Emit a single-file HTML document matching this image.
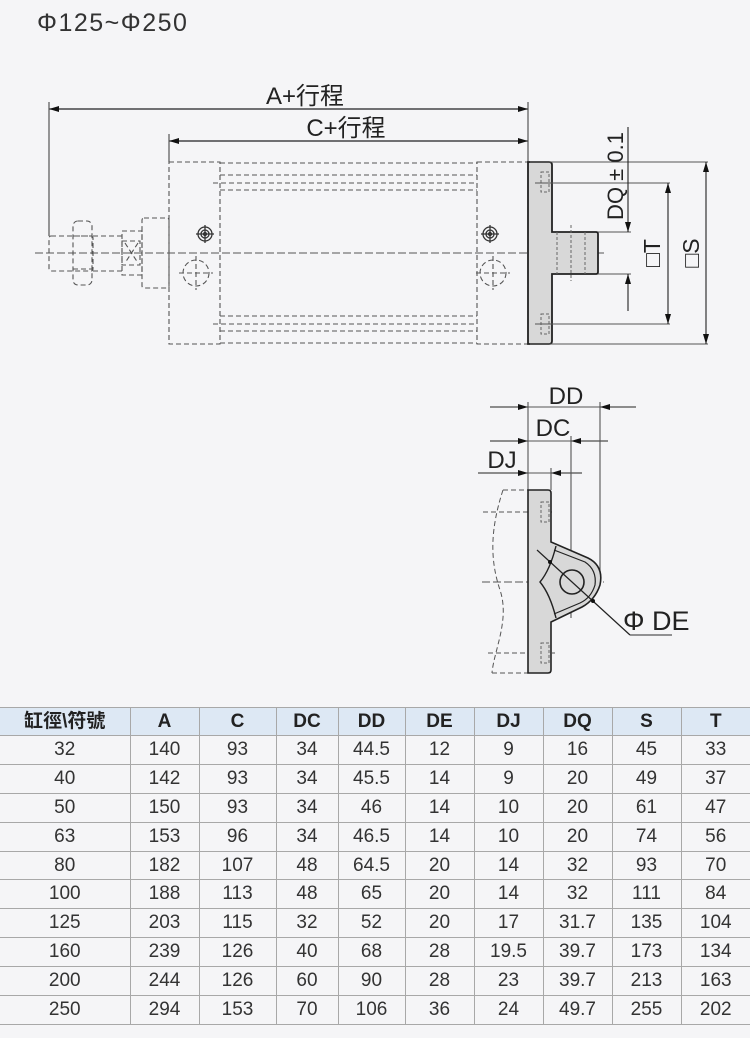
<!DOCTYPE html>
<html><head><meta charset="utf-8"><style>
html,body{margin:0;padding:0;background:#f5f5f7;}
body{width:750px;height:1038px;position:relative;overflow:hidden;font-family:"Liberation Sans","Noto Sans CJK TC",sans-serif;}
svg{position:absolute;left:0;top:0;}
table{position:absolute;left:0;top:707px;width:750px;border-collapse:collapse;table-layout:fixed;}
td,th{border:1.5px solid #a8a8a8;padding:0;text-align:center;font-size:19px;color:#333;line-height:20px;white-space:nowrap;overflow:hidden;}
tr{height:28.9px;}
th{background:#dde8f4;font-weight:bold;font-size:19px;color:#222;}
tr td:first-child, tr th:first-child{border-left:none;}
tr td:last-child, tr th:last-child{border-right:none;}
</style></head><body>
<svg width="750" height="700" viewBox="0 0 750 700" font-family="Liberation Sans, Noto Sans CJK TC, sans-serif">
<defs>
<marker id="ar" viewBox="0 0 10 6" refX="10" refY="3" markerWidth="17" markerHeight="6" orient="auto-start-reverse" markerUnits="userSpaceOnUse"><path d="M0,0 L10,3 L0,6z" fill="#111"/></marker>
</defs>
<text x="37" y="31" font-size="25" letter-spacing="1.5" fill="#333">Φ125~Φ250</text>
<g stroke="#555" stroke-width="1.2" fill="none">
<line x1="49" y1="109" x2="528" y2="109" marker-start="url(#ar)" marker-end="url(#ar)" stroke="#222"/>
<line x1="169" y1="141" x2="528" y2="141" marker-start="url(#ar)" marker-end="url(#ar)" stroke="#222"/>
<line x1="49" y1="102" x2="49" y2="236"/>
<line x1="169" y1="134" x2="169" y2="162"/>
<line x1="528" y1="102" x2="528" y2="162"/>
</g>
<text x="305" y="104" font-size="24" text-anchor="middle" fill="#222">A+行程</text>
<text x="346" y="136" font-size="24" text-anchor="middle" fill="#222">C+行程</text>
<g stroke="#555" stroke-width="1.1" fill="none" stroke-dasharray="5,3">
<rect x="169" y="162" width="51" height="182"/>
<rect x="477" y="162" width="51" height="182"/>
<line x1="220" y1="163" x2="477" y2="163"/>
<line x1="220" y1="175" x2="477" y2="175"/>
<line x1="213" y1="183" x2="477" y2="183"/>
<line x1="220" y1="190" x2="477" y2="190"/>
<line x1="220" y1="316" x2="477" y2="316"/>
<line x1="213" y1="324" x2="477" y2="324"/>
<line x1="220" y1="331" x2="477" y2="331"/>
<line x1="220" y1="343" x2="477" y2="343"/>
<rect x="142" y="218" width="27" height="70" rx="2"/>
<rect x="122" y="231" width="20" height="44"/>
<rect x="49" y="236" width="44" height="35" rx="2"/>
<line x1="93" y1="236" x2="122" y2="236"/><line x1="93" y1="271" x2="122" y2="271"/>
<rect x="73" y="221" width="19" height="64" rx="5"/>
<line x1="73" y1="236" x2="92" y2="236"/><line x1="73" y1="269" x2="92" y2="269"/>
<rect x="122" y="241" width="18" height="24"/>
<line x1="125" y1="243" x2="138" y2="263"/><line x1="138" y1="243" x2="125" y2="263"/>
<circle cx="196" cy="273" r="13"/><circle cx="493" cy="273" r="13"/>
<line x1="35" y1="253" x2="604" y2="253" stroke-dasharray="8,3"/>
<line x1="196" y1="256" x2="196" y2="290"/><line x1="179" y1="273" x2="213" y2="273"/>
<line x1="493" y1="256" x2="493" y2="290"/><line x1="476" y1="273" x2="510" y2="273"/>
</g>
<g fill="none" stroke="#333" stroke-width="1.3">
<circle cx="205" cy="234" r="7"/><circle cx="205" cy="234" r="4"/><circle cx="205" cy="234" r="1.5"/>
<circle cx="490" cy="234" r="7"/><circle cx="490" cy="234" r="4"/><circle cx="490" cy="234" r="1.5"/>
<line x1="196" y1="234" x2="214" y2="234"/><line x1="205" y1="225" x2="205" y2="243"/>
<line x1="481" y1="234" x2="499" y2="234"/><line x1="490" y1="225" x2="490" y2="243"/>
</g>
<path d="M528,162 H549 Q552,162 552,165 V232 H596 Q598,232 598,234 V272 Q598,274 596,274 H552 V341 Q552,344 549,344 H528 Z" fill="#d8d8d8" stroke="#222" stroke-width="1.8"/>
<g stroke="#666" stroke-width="1" fill="none" stroke-dasharray="3,2">
<rect x="541" y="172" width="8" height="20"/><rect x="541" y="314" width="8" height="20"/>
<line x1="557" y1="232" x2="557" y2="274"/><line x1="585" y1="232" x2="585" y2="274"/>
<line x1="571" y1="225" x2="571" y2="281"/>
</g>
<g stroke="#555" stroke-width="1.1" fill="none">
<line x1="530" y1="162" x2="708" y2="162"/>
<line x1="530" y1="344" x2="708" y2="344"/>
<line x1="535" y1="183" x2="670" y2="183"/>
<line x1="535" y1="324" x2="670" y2="324"/>
<line x1="598" y1="232" x2="631" y2="232"/>
<line x1="598" y1="274" x2="631" y2="274"/>
<line x1="628" y1="127" x2="628" y2="232" marker-end="url(#ar)" stroke="#222"/>
<line x1="628" y1="311" x2="628" y2="274" marker-end="url(#ar)" stroke="#222"/>
<line x1="668" y1="183" x2="668" y2="324" marker-start="url(#ar)" marker-end="url(#ar)" stroke="#222"/>
<line x1="706" y1="162" x2="706" y2="344" marker-start="url(#ar)" marker-end="url(#ar)" stroke="#222"/>
</g>
<text transform="translate(623,176) rotate(-90)" font-size="22" text-anchor="middle" fill="#222">DQ ± 0.1</text>
<text transform="translate(660,253) rotate(-90)" font-size="23" text-anchor="middle" fill="#222">□T</text>
<text transform="translate(699,253) rotate(-90)" font-size="23" text-anchor="middle" fill="#222">□S</text>
<g stroke="#555" stroke-width="1.1" fill="none">
<line x1="490" y1="407" x2="528" y2="407" marker-end="url(#ar)" stroke="#222"/>
<line x1="528" y1="407" x2="600" y2="407"/>
<line x1="636" y1="407" x2="600" y2="407" marker-end="url(#ar)" stroke="#222"/>
<line x1="490" y1="441" x2="528" y2="441" marker-end="url(#ar)" stroke="#222"/>
<line x1="528" y1="441" x2="571" y2="441"/>
<line x1="608" y1="441" x2="571" y2="441" marker-end="url(#ar)" stroke="#222"/>
<line x1="478" y1="473" x2="528" y2="473" marker-end="url(#ar)" stroke="#222"/>
<line x1="528" y1="473" x2="551" y2="473"/>
<line x1="582" y1="473" x2="551" y2="473" marker-end="url(#ar)" stroke="#222"/>
<line x1="528" y1="402" x2="528" y2="490"/>
<line x1="600" y1="402" x2="600" y2="575"/>
<line x1="571" y1="436" x2="571" y2="618"/>
<line x1="551" y1="468" x2="551" y2="490"/>
</g>
<text x="566" y="404" font-size="24" text-anchor="middle" fill="#222">DD</text>
<text x="553" y="436" font-size="24" text-anchor="middle" fill="#222">DC</text>
<text x="502" y="468" font-size="24" text-anchor="middle" fill="#222">DJ</text>
<path d="M503,490 C490,530 490,560 500,590 C510,620 494,650 492,673" fill="none" stroke="#555" stroke-dasharray="5,3"/>
<g stroke="#555" stroke-dasharray="5,3" fill="none">
<line x1="503" y1="490" x2="528" y2="490"/><line x1="492" y1="673" x2="528" y2="673"/>
<line x1="483" y1="512" x2="555" y2="512"/><line x1="488" y1="653" x2="555" y2="653"/>
<line x1="482" y1="582" x2="604" y2="582" stroke-dasharray="8,3"/>
</g>
<path d="M528,490 H548 Q551,490 551,493 V542 L588,558 Q604,566 600,585 Q595,600 582,607 L551,622 V670 Q551,673 548,673 H528 Z" fill="#d8d8d8" stroke="#222" stroke-width="1.6"/>
<path d="M556,546 Q550,570 540,582 Q550,594 556,618" fill="none" stroke="#222" stroke-width="1.4"/>
<path d="M554,550 L585,562 Q597,570 595,585 Q591,598 580,603 L554,614" fill="none" stroke="#222" stroke-width="1.2"/>
<circle cx="572" cy="582" r="12" fill="#d8d8d8" stroke="#222" stroke-width="1.6"/>
<g stroke="#666" stroke-width="1" fill="none" stroke-dasharray="3,2">
<rect x="541" y="502" width="8" height="20"/><rect x="541" y="643" width="8" height="20"/>
</g>
<line x1="537" y1="550" x2="630" y2="635" stroke="#222" stroke-width="1.2"/>
<line x1="630" y1="635" x2="672" y2="635" stroke="#555" stroke-width="1.2"/>
<circle cx="550" cy="562" r="2" fill="#111"/><circle cx="593" cy="601" r="2" fill="#111"/>
<text x="623" y="630" font-size="27" fill="#222">Φ DE</text>
</svg>
<table>
<colgroup><col style="width:130px"><col style="width:69px"><col style="width:77px"><col style="width:62px"><col style="width:67px"><col style="width:69px"><col style="width:69px"><col style="width:69px"><col style="width:69px"><col style="width:69px"></colgroup>
<tr style="height:28px"><th>缸徑\符號</th><th>A</th><th>C</th><th>DC</th><th>DD</th><th>DE</th><th>DJ</th><th>DQ</th><th>S</th><th>T</th></tr>
<tr><td>32</td><td>140</td><td>93</td><td>34</td><td>44.5</td><td>12</td><td>9</td><td>16</td><td>45</td><td>33</td></tr>
<tr><td>40</td><td>142</td><td>93</td><td>34</td><td>45.5</td><td>14</td><td>9</td><td>20</td><td>49</td><td>37</td></tr>
<tr><td>50</td><td>150</td><td>93</td><td>34</td><td>46</td><td>14</td><td>10</td><td>20</td><td>61</td><td>47</td></tr>
<tr><td>63</td><td>153</td><td>96</td><td>34</td><td>46.5</td><td>14</td><td>10</td><td>20</td><td>74</td><td>56</td></tr>
<tr><td>80</td><td>182</td><td>107</td><td>48</td><td>64.5</td><td>20</td><td>14</td><td>32</td><td>93</td><td>70</td></tr>
<tr><td>100</td><td>188</td><td>113</td><td>48</td><td>65</td><td>20</td><td>14</td><td>32</td><td>111</td><td>84</td></tr>
<tr><td>125</td><td>203</td><td>115</td><td>32</td><td>52</td><td>20</td><td>17</td><td>31.7</td><td>135</td><td>104</td></tr>
<tr><td>160</td><td>239</td><td>126</td><td>40</td><td>68</td><td>28</td><td>19.5</td><td>39.7</td><td>173</td><td>134</td></tr>
<tr><td>200</td><td>244</td><td>126</td><td>60</td><td>90</td><td>28</td><td>23</td><td>39.7</td><td>213</td><td>163</td></tr>
<tr><td>250</td><td>294</td><td>153</td><td>70</td><td>106</td><td>36</td><td>24</td><td>49.7</td><td>255</td><td>202</td></tr>
</table>
</body></html>
